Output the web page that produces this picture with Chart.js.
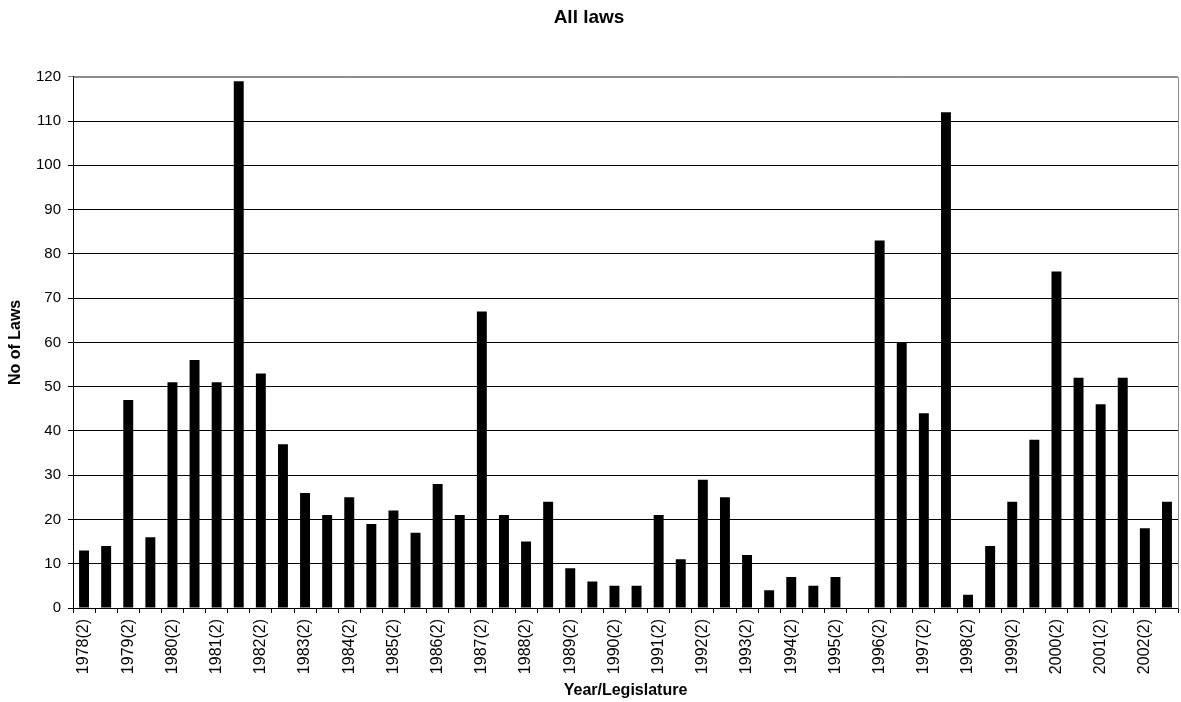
<!DOCTYPE html>
<html>
<head>
<meta charset="utf-8">
<script src="https://cdn.jsdelivr.net/npm/chart.js@4.4.1/dist/chart.umd.min.js"></script>
<style>
  html, body { margin: 0; padding: 0; background: #fff; }
  #wrap { width: 1181px; height: 702px; position: relative; }
</style>
</head>
<body>
<div id="wrap"><canvas id="c"></canvas></div>
<script>
const categories = [
  "1978(2)",
  "1979(1)", "1979(2)", "1980(1)", "1980(2)", "1981(1)", "1981(2)",
  "1982(1)", "1982(2)", "1983(1)", "1983(2)", "1984(1)", "1984(2)",
  "1985(1)", "1985(2)", "1986(1)", "1986(2)", "1987(1)", "1987(2)",
  "1988(1)", "1988(2)", "1989(1)", "1989(2)", "1990(1)", "1990(2)",
  "1991(1)", "1991(2)", "1992(1)", "1992(2)", "1993(1)", "1993(2)",
  "1994(1)", "1994(2)", "1995(1)", "1995(2)", "1996(1)", "1996(2)",
  "1997(1)", "1997(2)", "1998(1)", "1998(2)", "1999(1)", "1999(2)",
  "2000(1)", "2000(2)", "2001(1)", "2001(2)", "2002(1)", "2002(2)",
  "2003(1)"
];
const lawCounts = [
  13,
  14, 47, 16, 51, 56, 51,
  119, 53, 37, 26, 21, 25,
  19, 22, 17, 28, 21, 67,
  21, 15, 24, 9, 6, 5,
  5, 21, 11, 29, 25, 12,
  4, 7, 5, 7, 0, 83,
  60, 44, 112, 3, 14, 24,
  38, 76, 52, 46, 52, 18,
  24
];
const yTicks = { min: 0, max: 120, step: 10 };
const chartTitle = "All laws";
const xTitle = "Year/Legislature";
const yTitle = "No of Laws";

const FONT = "Arial, 'Liberation Sans', sans-serif";

const plotBorder = {
  id: 'plotBorder',
  afterDatasetsDraw(chart) {
    const a = chart.chartArea;
    const ctx = chart.ctx;
    ctx.save();
    ctx.strokeStyle = '#8c8c8c';
    ctx.lineWidth = 1;
    ctx.beginPath();
    ctx.moveTo(Math.round(a.left) + 0.5, Math.round(a.top) + 0.5);
    ctx.lineTo(Math.round(a.right) + 0.5, Math.round(a.top) + 0.5);
    ctx.lineTo(Math.round(a.right) + 0.5, Math.round(a.bottom) + 0.5);
    ctx.stroke();
    ctx.restore();
  }
};

new Chart(document.getElementById('c'), {
  type: 'bar',
  data: {
    labels: categories,
    datasets: [{
      label: chartTitle,
      data: lawCounts,
      backgroundColor: '#000000',
      borderWidth: 0,
      barPercentage: 0.45,
      categoryPercentage: 1.0
    }]
  },
  options: {
    responsive: true,
    maintainAspectRatio: false,
    animation: false,
    layout: { padding: { left: 0, right: 3, top: 0, bottom: 0 } },
    plugins: {
      legend: { display: false },
      tooltip: { enabled: false },
      title: {
        display: true,
        text: chartTitle,
        color: '#000',
        font: { family: FONT, size: 19, weight: 'bold' },
        padding: { top: 6, bottom: 48 }
      }
    },
    scales: {
      x: {
        afterFit(scale) {
          scale.height = 94;
          scale.paddingLeft = 0;
          scale.paddingRight = 0;
        },
        border: { display: true, color: '#000', width: 1 },
        grid: {
          offset: true,
          drawOnChartArea: false,
          drawTicks: true,
          tickLength: 5,
          color: '#000'
        },
        ticks: {
          autoSkip: false,
          maxRotation: 90,
          minRotation: 90,
          padding: 6,
          color: '#000',
          font: { family: FONT, size: 16 },
          callback(value, index) {
            return index % 2 === 0 ? categories[index] : '';
          }
        },
        title: {
          display: true,
          text: xTitle,
          color: '#000',
          font: { family: FONT, size: 16, weight: 'bold' },
          padding: { top: 0, bottom: 2 }
        }
      },
      y: {
        min: yTicks.min,
        max: yTicks.max,
        afterFit(scale) { scale.width = 73; },
        border: { display: true, color: '#000', width: 1 },
        grid: {
          drawTicks: true,
          tickLength: 5,
          color(ctx) { return ctx.tick && ctx.tick.value === yTicks.max ? '#8c8c8c' : '#000'; },
          lineWidth: 1
        },
        ticks: {
          stepSize: yTicks.step,
          padding: 7,
          color: '#000',
          font: { family: FONT, size: 15 }
        },
        title: {
          display: true,
          text: yTitle,
          color: '#000',
          font: { family: FONT, size: 16, weight: 'bold' },
          padding: { top: 6, bottom: 0 }
        }
      }
    }
  },
  plugins: [plotBorder]
});
</script>
</body>
</html>
